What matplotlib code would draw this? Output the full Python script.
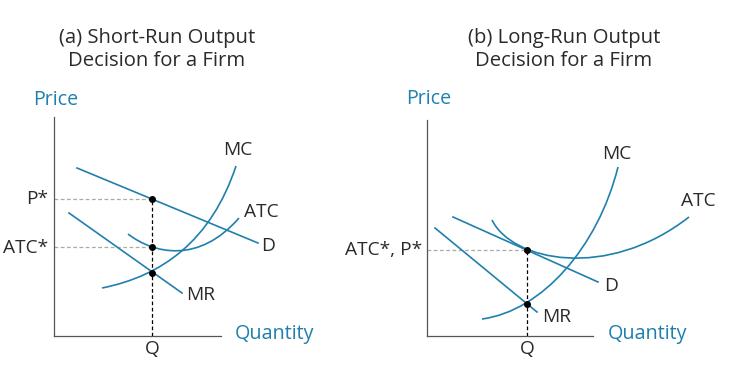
import matplotlib.pyplot as plt
from matplotlib.path import Path
from matplotlib.patches import PathPatch

plt.rcParams['font.family'] = ['Open Sans', 'DejaVu Sans']

BLUE = '#2080ad'
AXIS = '#555555'
TEXT = '#2a2a2a'

# ---- panel (a): short run, units are quantity / price in plot units
sr_demand_q = [23, 204]
sr_demand_p = [168, 93]
sr_mr_q = [15, 128]
sr_mr_p = [123, 43]
sr_mc_q = [48, 108, 157, 182]      # cubic bezier control points
sr_mc_p = [48, 60, 95, 170]
sr_atc_q = [74, 100, 145, 185]
sr_atc_p = [102, 82, 72, 118]
sr_q = 98
sr_price = 137
sr_atc_star = 89
sr_mc_at_q = 63

# ---- panel (b): long run
lr_demand_q = [26, 171]
lr_demand_p = [119, 54]
lr_mr_q = [8, 110]
lr_mr_p = [108, 24]
lr_mc_q = [55, 115, 171, 191]
lr_mc_p = [17, 25, 89, 169]
lr_atc_q = [65, 85, 180, 262]
lr_atc_p = [116, 75, 55, 119]
lr_q = 100
lr_price = 86
lr_mc_at_q = 32


def bezier(ax, qs, ps):
    verts = list(zip(qs, ps))
    codes = [Path.MOVETO, Path.CURVE4, Path.CURVE4, Path.CURVE4]
    ax.add_patch(PathPatch(Path(verts, codes), fc='none', ec=BLUE,
                           lw=1.2, clip_on=False))


def setup(ax, w, h, price_y):
    ax.set_xlim(0, w)
    ax.set_ylim(0, h)
    for s in ['top', 'right']:
        ax.spines[s].set_visible(False)
    for s in ['left', 'bottom']:
        ax.spines[s].set_color(AXIS)
        ax.spines[s].set_linewidth(0.9)
    ax.set_xticks([])
    ax.set_yticks([])
    ax.patch.set_alpha(0)
    ax.text(-21, price_y, 'Price', color=BLUE, fontsize=14.2, va='center', ha='left')
    ax.text(181, 2, 'Quantity', color=BLUE, fontsize=14.2, va='center', ha='left')


def label(ax, x, y, s, ha='center'):
    ax.text(x, y, s, fontsize=13.8, ha=ha, va='center', color=TEXT)


fig = plt.figure(figsize=(7.4, 3.67), dpi=100)

# panel (a)
ax1 = fig.add_axes([54/740, 31/367, 167/740, 219/367])
setup(ax1, 167, 219, 236)
ax1.plot([0, sr_q], [sr_price, sr_price], color='#aaaaaa', lw=0.9, dashes=(3, 2))
ax1.plot([0, sr_q], [sr_atc_star, sr_atc_star], color='#aaaaaa', lw=0.9, dashes=(3, 2))
ax1.plot([sr_q, sr_q], [0, sr_price], color='black', lw=0.9, dashes=(3, 2))
ax1.plot(sr_demand_q, sr_demand_p, color=BLUE, lw=1.2, clip_on=False)
ax1.plot(sr_mr_q, sr_mr_p, color=BLUE, lw=1.2, clip_on=False)
bezier(ax1, sr_mc_q, sr_mc_p)
bezier(ax1, sr_atc_q, sr_atc_p)
ax1.plot([sr_q] * 3, [sr_price, sr_atc_star, sr_mc_at_q], 'o', color='black',
         ms=4, zorder=5, clip_on=False)
label(ax1, 184, 186, 'MC')
label(ax1, 207, 124, 'ATC')
label(ax1, 214, 90, 'D')
label(ax1, 147, 41, 'MR')
label(ax1, -6, sr_price, 'P*', ha='right')
label(ax1, -6, sr_atc_star - 1, 'ATC*', ha='right')
label(ax1, sr_q, -13, 'Q')

# panel (b)
ax2 = fig.add_axes([427/740, 31/367, 166/740, 216/367])
setup(ax2, 166, 216, 237)
ax2.plot([0, lr_q], [lr_price, lr_price], color='#aaaaaa', lw=0.9, dashes=(3, 2))
ax2.plot([lr_q, lr_q], [0, lr_price], color='black', lw=0.9, dashes=(3, 2))
ax2.plot(lr_demand_q, lr_demand_p, color=BLUE, lw=1.2, clip_on=False)
ax2.plot(lr_mr_q, lr_mr_p, color=BLUE, lw=1.2, clip_on=False)
bezier(ax2, lr_mc_q, lr_mc_p)
bezier(ax2, lr_atc_q, lr_atc_p)
ax2.plot([lr_q] * 2, [lr_price, lr_mc_at_q], 'o', color='black',
         ms=4, zorder=5, clip_on=False)
label(ax2, 190, 182, 'MC')
label(ax2, 271, 135, 'ATC')
label(ax2, 184, 50, 'D')
label(ax2, 130, 19, 'MR')
label(ax2, -5, lr_price, 'ATC*, P*', ha='right')
label(ax2, lr_q, -13, 'Q')

fig.text(157/740, 1 - 49.5/367, '(a) Short-Run Output\nDecision for a Firm',
         ha='center', va='center', fontsize=14.6, color=TEXT, linespacing=1.2)
fig.text(564/740, 1 - 49.5/367, '(b) Long-Run Output\nDecision for a Firm',
         ha='center', va='center', fontsize=14.6, color=TEXT, linespacing=1.2)

fig.savefig('out.png', dpi=100)
